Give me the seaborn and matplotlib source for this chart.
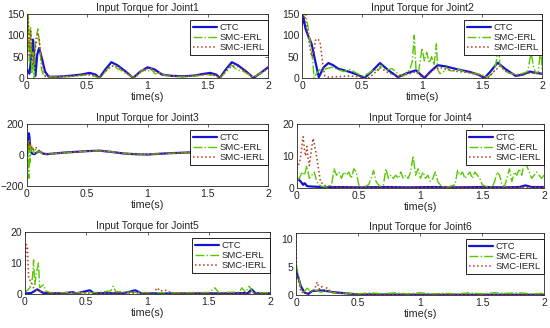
import numpy as np
import pandas as pd
import matplotlib
matplotlib.use("Agg")
import matplotlib.pyplot as plt
import seaborn as sns

# ---------------- data (time, torque) ----------------
j1_ctc = [(0, 20), (0.02, 10), (0.04, 60), (0.05, 90), (0.06, 50), (0.07, 5), (0.085, 55), (0.1, 70),
          (0.12, 50), (0.15, 15), (0.18, 3), (0.25, 3), (0.35, 5), (0.45, 8), (0.52, 12), (0.57, 8),
          (0.6, 0), (0.65, 20), (0.7, 37), (0.75, 30), (0.82, 15), (0.88, 0), (0.94, 15), (1.0, 25),
          (1.06, 20), (1.12, 8), (1.2, 5), (1.3, 4), (1.4, 6), (1.45, 9), (1.52, 12), (1.57, 8),
          (1.6, 0), (1.65, 20), (1.7, 37), (1.75, 30), (1.82, 15), (1.88, 0), (1.94, 12), (2.0, 25)]
j1_erl = [(0, 150), (0.005, 60), (0.01, 150), (0.02, 40), (0.03, 120), (0.04, 10), (0.05, 60), (0.06, 0),
          (0.07, 90), (0.08, 100), (0.09, 115), (0.1, 90), (0.11, 60), (0.12, 20), (0.14, 5), (0.16, 2),
          (0.2, 3), (0.25, 2), (0.3, 4), (0.35, 3), (0.4, 5), (0.45, 6), (0.5, 8), (0.55, 5), (0.6, 0),
          (0.62, 3), (0.65, 15), (0.68, 25), (0.72, 30), (0.75, 22), (0.78, 18), (0.82, 10), (0.86, 5),
          (0.9, 0), (0.93, 10), (0.96, 20), (1.0, 15), (1.03, 22), (1.06, 10), (1.1, 12), (1.15, 6),
          (1.2, 4), (1.3, 3), (1.4, 5), (1.5, 8), (1.55, 6), (1.6, 0), (1.63, 8), (1.67, 25), (1.7, 30),
          (1.73, 22), (1.76, 18), (1.8, 15), (1.84, 8), (1.88, 2), (1.92, 8), (1.96, 15), (2.0, 20)]
j1_ierl = [(0, 100), (0.01, 140), (0.02, 50), (0.03, 110), (0.05, 30), (0.07, 70), (0.09, 105), (0.1, 95),
           (0.12, 40), (0.15, 5), (0.2, 3), (0.3, 3), (0.4, 5), (0.5, 8), (0.55, 7), (0.6, 1), (0.65, 15),
           (0.7, 28), (0.75, 28), (0.8, 18), (0.88, 2), (0.95, 15), (1.0, 22), (1.05, 18), (1.1, 10),
           (1.2, 5), (1.3, 4), (1.4, 6), (1.5, 9), (1.55, 7), (1.6, 1), (1.65, 15), (1.7, 28), (1.75, 27),
           (1.8, 18), (1.88, 2), (1.95, 15), (2.0, 22)]

j2_ctc = [(0, 125), (0.01, 145), (0.02, 130), (0.03, 115), (0.05, 100), (0.08, 80), (0.11, 40), (0.14, 2),
          (0.18, 25), (0.22, 35), (0.26, 30), (0.3, 22), (0.35, 18), (0.4, 14), (0.46, 8), (0.52, 0),
          (0.58, 15), (0.65, 35), (0.72, 18), (0.8, 2), (0.88, 12), (0.95, 18), (1.02, 0), (1.07, 15),
          (1.13, 30), (1.2, 27), (1.3, 20), (1.4, 14), (1.47, 8), (1.52, 0), (1.57, 15), (1.63, 36),
          (1.7, 20), (1.78, 5), (1.84, 8), (1.9, 15), (1.95, 12), (2.0, 10)]
j2_erl = [(0, 140), (0.01, 150), (0.03, 150), (0.05, 120), (0.07, 80), (0.09, 40), (0.1, 0), (0.12, 10),
          (0.15, 20), (0.18, 15), (0.2, 22), (0.25, 25), (0.3, 20), (0.35, 15), (0.4, 20), (0.45, 12),
          (0.5, 5), (0.55, 10), (0.6, 20), (0.63, 15), (0.66, 30), (0.7, 18), (0.75, 22), (0.8, 10),
          (0.85, 5), (0.9, 20), (0.92, 40), (0.935, 100), (0.95, 20), (0.97, 10), (1.0, 70), (1.02, 40),
          (1.04, 60), (1.06, 35), (1.08, 50), (1.1, 30), (1.12, 80), (1.13, 20), (1.15, 10), (1.18, 15),
          (1.2, 25), (1.25, 15), (1.3, 20), (1.35, 15), (1.4, 12), (1.45, 10), (1.5, 8), (1.55, 2),
          (1.6, 15), (1.62, 40), (1.635, 85), (1.65, 30), (1.68, 20), (1.72, 12), (1.78, 8), (1.83, 10),
          (1.88, 15), (1.91, 60), (1.93, 25), (1.95, 10), (1.97, 15), (1.99, 75), (2.0, 20)]
j2_ierl = [(0, 140), (0.02, 150), (0.04, 120), (0.06, 80), (0.08, 50), (0.1, 60), (0.11, 88), (0.13, 92),
           (0.15, 85), (0.17, 40), (0.19, 5), (0.22, 2), (0.3, 3), (0.4, 5), (0.5, 2), (0.55, 0), (0.6, 10),
           (0.65, 25), (0.7, 15), (0.8, 3), (0.9, 10), (0.95, 15), (1.0, 2), (1.05, 8), (1.1, 20),
           (1.15, 25), (1.2, 20), (1.3, 15), (1.4, 12), (1.5, 5), (1.55, 0), (1.6, 15), (1.65, 28),
           (1.7, 15), (1.8, 5), (1.9, 12), (2.0, 10)]

j3_ctc = [(0, 0), (0.01, 60), (0.015, 140), (0.02, 120), (0.025, 60), (0.03, 30), (0.04, 10), (0.06, 5),
          (0.08, 15), (0.1, 25), (0.13, 10), (0.16, 5), (0.2, 8), (0.3, 15), (0.4, 20), (0.5, 25),
          (0.6, 28), (0.7, 20), (0.8, 10), (0.9, 5), (1.0, 3), (1.1, 8), (1.2, 12), (1.3, 15), (1.4, 18),
          (1.5, 20), (1.6, 22), (1.7, 18), (1.8, 15), (1.9, 12), (2.0, 10)]
j3_erl = [(0, 0), (0.01, 80), (0.015, -150), (0.02, 90), (0.025, -50), (0.03, 60), (0.04, 20), (0.05, 45),
          (0.06, 10), (0.07, 35), (0.08, 15), (0.1, 30), (0.12, 10), (0.15, 5), (0.2, 8), (0.3, 14),
          (0.4, 19), (0.5, 24), (0.6, 27), (0.7, 21), (0.8, 11), (0.9, 6), (1.0, 4), (1.1, 9), (1.2, 11),
          (1.3, 14), (1.4, 17), (1.5, 19), (1.6, 21), (1.7, 17), (1.8, 14), (1.9, 11), (2.0, 9)]
j3_ierl = [(0, 0), (0.01, 100), (0.02, 40), (0.03, 70), (0.05, 30), (0.07, 50), (0.09, 40), (0.11, 20),
           (0.14, 10), (0.2, 8), (0.3, 15), (0.4, 20), (0.5, 24), (0.6, 27), (0.7, 20), (0.8, 10),
           (0.9, 5), (1.0, 4), (1.1, 8), (1.2, 12), (1.3, 15), (1.4, 18), (1.5, 20), (1.6, 22), (1.7, 18),
           (1.8, 15), (1.9, 12), (2.0, 10)]

j4_ctc = [(0, 3), (0.01, 2.8), (0.03, 2), (0.05, 1), (0.06, 1.5), (0.07, 1.2), (0.08, 0.6), (0.1, 0.5),
          (0.15, 0.4), (0.2, 0.3), (0.3, 0.3), (0.5, 0.2), (0.7, 0.3), (0.9, 0.2), (1.1, 0.3), (1.3, 0.2),
          (1.5, 0.3), (1.7, 0.2), (1.8, 0.3), (1.85, 0.8), (1.9, 0.3), (2.0, 0.3)]
j4_erl = [(0, 2.5), (0.02, 3), (0.04, 5), (0.06, 4), (0.08, 7), (0.1, 3), (0.12, 4), (0.14, 5), (0.16, 2),
          (0.18, 1), (0.2, 0.5), (0.25, 0.3), (0.28, 1), (0.3, 6), (0.32, 4), (0.34, 5), (0.36, 3),
          (0.38, 5), (0.4, 4), (0.42, 5), (0.44, 3), (0.46, 6), (0.48, 5), (0.5, 1), (0.52, 0.3),
          (0.55, 0.5), (0.58, 1), (0.6, 3), (0.62, 5.5), (0.64, 2), (0.67, 0.5), (0.7, 1), (0.72, 6),
          (0.74, 3), (0.76, 4), (0.78, 3), (0.8, 4), (0.82, 3), (0.84, 5), (0.86, 3), (0.88, 4), (0.9, 3),
          (0.92, 5), (0.94, 10), (0.96, 4), (0.98, 6), (1.0, 3), (1.02, 5), (1.04, 3), (1.06, 4),
          (1.08, 2), (1.1, 3), (1.12, 5), (1.14, 2), (1.17, 0.5), (1.22, 0.3), (1.28, 1), (1.3, 5.5),
          (1.32, 4), (1.34, 5), (1.36, 3), (1.38, 4), (1.4, 5), (1.42, 3), (1.44, 5), (1.46, 4),
          (1.48, 3), (1.5, 1), (1.53, 0.5), (1.58, 0.3), (1.6, 2), (1.62, 5), (1.64, 4), (1.66, 1),
          (1.68, 0.5), (1.7, 3), (1.72, 6), (1.74, 2), (1.76, 5), (1.78, 4), (1.8, 6), (1.82, 4),
          (1.84, 8), (1.86, 7), (1.88, 5), (1.9, 3), (1.92, 4), (1.94, 5), (1.96, 4), (1.98, 3), (2.0, 4)]
j4_ierl = [(0, 6), (0.01, 7), (0.02, 8), (0.03, 10), (0.045, 15), (0.05, 16), (0.06, 12), (0.07, 10),
           (0.08, 13), (0.09, 9), (0.1, 7), (0.11, 10), (0.13, 15.5), (0.15, 12), (0.17, 7), (0.19, 2),
           (0.22, 0.8), (0.3, 0.3), (0.5, 0.2), (1.0, 0.2), (1.5, 0.2), (2.0, 0.2)]

j5_ctc = [(0, 0.2), (0.05, 0.3), (0.08, 1), (0.1, 1.5), (0.12, 1), (0.15, 0.3), (0.3, 0.2), (0.39, 0.6),
          (0.42, 0.2), (0.53, 1.2), (0.56, 0.3), (0.8, 0.2), (0.9, 1.2), (0.92, 0.8), (0.95, 0.2),
          (1.3, 0.2), (1.6, 0.2), (1.82, 0.3), (1.85, 1.5), (1.88, 0.3), (2.0, 0.2)]
j5_erl = [(0, 0.5), (0.04, 2), (0.06, 5), (0.07, 11), (0.08, 3), (0.09, 6), (0.11, 10), (0.12, 2),
          (0.15, 3), (0.17, 1), (0.2, 0.5), (0.4, 0.4), (0.6, 0.5), (0.7, 1), (0.72, 2.5), (0.74, 0.8),
          (0.9, 0.5), (1.2, 0.4), (1.5, 0.5), (1.55, 2), (1.58, 0.5), (1.75, 0.6), (1.77, 2), (1.8, 0.6),
          (1.83, 2.5), (1.86, 0.5), (2.0, 0.4)]
j5_ierl = [(0, 8), (0.01, 16), (0.02, 15), (0.03, 5), (0.05, 4), (0.07, 2), (0.1, 1), (0.2, 0.3),
           (0.5, 0.3), (0.9, 0.3), (1.05, 0.4), (1.08, 2), (1.1, 1), (1.15, 1.2), (1.2, 0.3), (1.6, 0.3),
           (2.0, 0.3)]

j6_ctc = [(0, 4.5), (0.02, 3), (0.04, 1.5), (0.07, 0.4), (0.1, 0.2), (0.13, 0.7), (0.2, 0.8), (0.25, 0.7),
          (0.3, 0.5), (0.4, 0.3), (0.5, 0.1), (1.0, 0.05), (2.0, 0.05)]
j6_erl = [(0, 5.5), (0.02, 3.5), (0.04, 1), (0.06, 0.5), (0.09, 1.2), (0.12, 0.6), (0.15, 0.9), (0.2, 0.5),
          (0.25, 0.8), (0.3, 0.4), (0.4, 0.3), (0.5, 0.2), (0.6, 0.4), (0.7, 0.2), (0.8, 0.4), (0.9, 0.2),
          (1.0, 0.4), (1.1, 0.2), (1.2, 0.3), (1.3, 0.2), (1.4, 0.4), (1.5, 0.2), (1.6, 0.4), (1.7, 0.3),
          (1.8, 0.4), (1.9, 0.2), (2.0, 0.3)]
j6_ierl = [(0, 11), (0.005, 3), (0.02, 2.5), (0.04, 0.5), (0.1, 0.3), (0.15, 1), (0.17, 2.3), (0.19, 1),
           (0.21, 1.5), (0.23, 0.8), (0.25, 1.3), (0.28, 0.5), (0.35, 0.3), (0.5, 0.1), (2.0, 0.05)]

joints = ["Joint1", "Joint2", "Joint3", "Joint4", "Joint5", "Joint6"]
series = [(j1_ctc, j1_erl, j1_ierl), (j2_ctc, j2_erl, j2_ierl), (j3_ctc, j3_erl, j3_ierl),
          (j4_ctc, j4_erl, j4_ierl), (j5_ctc, j5_erl, j5_ierl), (j6_ctc, j6_erl, j6_ierl)]
ylims = [(0, 150), (0, 150), (-200, 200), (0, 20), (0, 20), (0, 11)]
yticks = [[0, 50, 100, 150], [0, 50, 100, 150], [-200, 0, 200], [0, 10, 20], [0, 10, 20], [0, 5, 10]]
xticks = [0, 0.5, 1, 1.5, 2]
xtick_labels = ["0", "0.5", "1", "1.5", "2"]
labels = ["CTC", "SMC-ERL", "SMC-IERL"]

# ---------------- styling ----------------
sns.set_theme(style="white")
plt.rcParams["font.family"] = ["Liberation Sans", "DejaVu Sans"]
plt.rcParams["axes.linewidth"] = 0.6
plt.rcParams["axes.edgecolor"] = "#262626"

colors = ["#1414d2", "#55c800", "#b83a1c"]
styles = ["-", "-.", ":"]
widths = [1.6, 1.0, 1.1]

W, H = 550, 328
# axes boxes in pixels: left, top, right, bottom
boxes = [(27, 14, 268, 78), (302, 14, 542, 78),
         (27, 124, 268, 186), (297, 124, 544, 188),
         (25, 232, 270, 294), (296, 233, 544, 295)]

fig = plt.figure(figsize=(W / 100, H / 100), dpi=100)

for name, data, ylim, ytk, (l, t, r, b) in zip(joints, series, ylims, yticks, boxes):
    ax = fig.add_axes([l / W, 1 - b / H, (r - l) / W, (b - t) / H])
    for pts, lab, c, ls, lw in zip(data, labels, colors, styles, widths):
        df = pd.DataFrame(pts, columns=["time", "torque"])
        sns.lineplot(data=df, x="time", y="torque", ax=ax, color=c, linestyle=ls,
                     linewidth=lw, label=lab, sort=False, estimator=None)
    ax.set_xlim(0, 2)
    ax.set_ylim(*ylim)
    ax.set_xticks(xticks)
    ax.set_xticklabels(xtick_labels)
    ax.set_yticks(ytk)
    ax.tick_params(direction="in", length=2.5, width=0.5, labelsize=7.5, pad=2,
                   top=True, right=True, colors="#262626")
    ax.set_title("Input Torque for " + name, fontsize=7.5, pad=2)
    ax.set_xlabel("time(s)", fontsize=7.8, labelpad=1)
    ax.set_ylabel("")
    leg = ax.legend(loc="upper right", bbox_to_anchor=(1.0, 0.9), fontsize=6.8,
                    frameon=True, fancybox=False, edgecolor="black", framealpha=1,
                    handlelength=2.6, handletextpad=0.3, labelspacing=0.12,
                    borderpad=0.3, borderaxespad=0)
    leg.get_frame().set_linewidth(0.6)

fig.savefig("out.png", dpi=100)
